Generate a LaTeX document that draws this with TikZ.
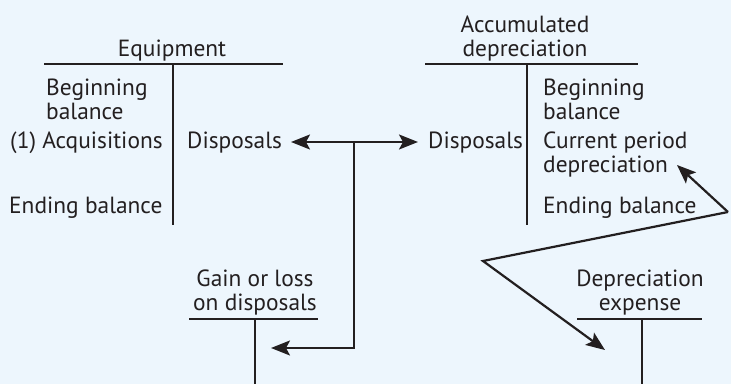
\documentclass[tikz,border=0pt]{standalone}
\usepackage{fontspec}
\setmainfont{PT Sans}
\usetikzlibrary{arrows.meta, positioning, calc}
\definecolor{pagebg}{HTML}{EDF6FD}
\definecolor{inkdark}{HTML}{231F20}
\tikzset{
  lbl/.style={inner sep=0pt, anchor=base west, align=left,
    font=\fontsize{23.4}{24}\selectfont, text=inkdark},
  ttl/.style={inner sep=0pt, anchor=base, align=center,
    font=\fontsize{23.4}{24}\selectfont, text=inkdark},
  tline/.style={draw=inkdark, line width=1.3pt},
  flow/.style={-{Stealth[length=19pt, width=15pt, inset=4pt]}, draw=inkdark,
    line width=2.2pt, line join=miter}
}

\begin{document}
\begin{tikzpicture}[x=1pt, y=-1pt]
\useasboundingbox[fill=pagebg] (0,0) rectangle (731,384);
% T accounts
\draw[tline] (44,64) -- (283,64) (173,64) -- (173,225);
\draw[tline] (425,64) -- (638,64) (527,64) -- (527,225);
\draw[tline] (189,319) -- (318,319) (255,319) -- (255,384);
\draw[tline] (577,319) -- (702,319) (642,319) -- (642,384);
\node[ttl] (equip) at (172,56) {Equipment};
\node[ttl] (accum) at (525,56) {Accumulated\\depreciation};
\node[ttl] (gain) at (255,310) {Gain or loss\\on disposals};
\node[ttl] (depexp) at (640,310) {Depreciation\\expense};
\node[lbl] (begL) at (46,119) {Beginning\\balance};
\node[lbl] (acqL) at (10,148) {(1) Acquisitions};
\node[lbl] (endL) at (9,213) {Ending balance};
\node[lbl] (dispL) at (187,148) {Disposals};
\node[lbl] (dispR) at (428,148) {Disposals};
\node[lbl] (begR) at (543,119) {Beginning\\balance};
\node[lbl] (curR) at (543,172) {Current period\\depreciation};
\node[lbl] (endR) at (543,213) {Ending balance};
% arrows
\coordinate (jn) at (354,142);
\coordinate (tipL) at (291,142);
\coordinate (tipR) at (418,142);
\coordinate (tipG) at (271,348);
\coordinate (apex) at (728,212);
\coordinate (tipC) at (677,165);
\coordinate (vtx) at (483,261);
\coordinate (tipD) at (605,350);
\draw[flow] (jn) -- (tipL);
\draw[flow] (jn) -- (tipR);
\draw[flow] (jn) |- (tipG);
\draw[flow] (apex) -- (tipC);
\draw[flow] (apex) -- (vtx) -- (tipD);
\end{tikzpicture}
\end{document}
